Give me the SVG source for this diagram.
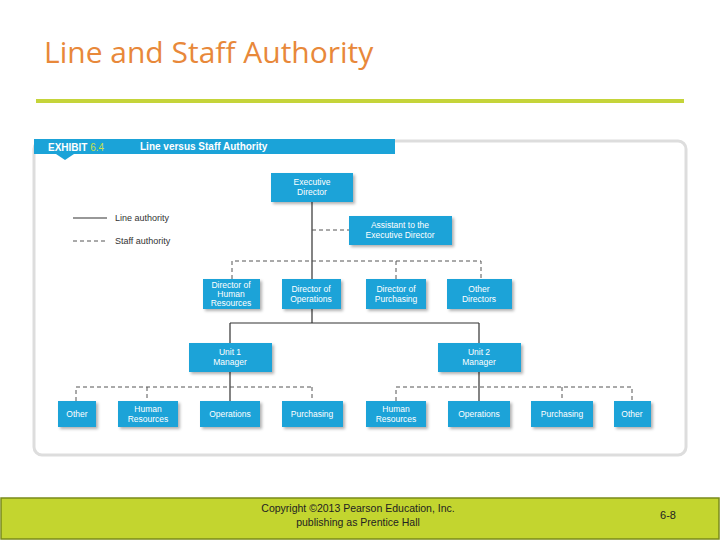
<svg xmlns="http://www.w3.org/2000/svg" width="720" height="540" viewBox="0 0 720 540">
<style>
.b{fill:#1ba3d8;filter:url(#sh)}
.t{font-family:"Liberation Sans",Arial,sans-serif;font-size:8.5px;fill:#fff;text-anchor:middle}
.s{stroke:#333;stroke-width:1.2;fill:none}
.d{stroke:#555;stroke-width:1;fill:none;stroke-dasharray:4,3}
</style>
<defs><filter id="sh" x="-20%" y="-20%" width="150%" height="150%"><feDropShadow dx="2" dy="2" stdDeviation="1.5" flood-color="#000" flood-opacity="0.3"/></filter></defs>
<rect width="720" height="540" fill="#fff"/>
<text x="44" y="63" font-family="'Open Sans','Liberation Sans',sans-serif" font-size="30" fill="#e8883a">Line and Staff Authority</text>
<rect x="36" y="99" width="648" height="4" fill="#c5d43a"/>
<rect x="34" y="141" width="652" height="314" rx="8" fill="#fff" stroke="#ddd" stroke-width="3"/>
<rect x="34" y="139" width="361" height="15" fill="#1ba3d8"/>
<polygon points="56,154 74,154 65,160" fill="#1ba3d8"/>
<text x="48" y="151" font-family="'Liberation Sans',sans-serif" font-size="10" font-weight="bold" fill="#fff">EXHIBIT <tspan fill="#c8e04a" font-weight="normal">6.4</tspan></text>
<text x="140" y="150" font-family="'Liberation Sans',sans-serif" font-size="10" font-weight="bold" fill="#fff">Line versus Staff Authority</text>
<line x1="73" y1="218" x2="107" y2="218" class="s"/>
<line x1="73" y1="241" x2="107" y2="241" class="d"/>
<text x="115" y="221" font-family="'Liberation Sans',sans-serif" font-size="9" fill="#333">Line authority</text>
<text x="115" y="244" font-family="'Liberation Sans',sans-serif" font-size="9" fill="#333">Staff authority</text>
<g id="connectors">
<path class="s" d="M312 202V323M230 323H479M230 323V343M479 323V343M312 279V261M230 372V401M479 372V401"/>
<path class="d" d="M312 230H349M232 279V261H481V279M396 261V279M76 401V387H312M147 387V401M312 387V401M396 401V387H632V401M562 387V401"/>
</g>
<g id="exec"><rect class="b" x="271" y="173" width="82" height="29"/><text class="t" x="312" y="185">Executive</text><text class="t" x="312" y="195">Director</text></g>
<g id="asst"><rect class="b" x="349" y="216" width="103" height="29"/><text class="t" x="400" y="228">Assistant to the</text><text class="t" x="400" y="238">Executive Director</text></g>
<g id="dhr"><rect class="b" x="203" y="279" width="57" height="30"/><text class="t" x="231" y="288">Director of</text><text class="t" x="231" y="297">Human</text><text class="t" x="231" y="306">Resources</text></g>
<g id="dops"><rect class="b" x="282" y="279" width="59" height="30"/><text class="t" x="311" y="292">Director of</text><text class="t" x="311" y="302">Operations</text></g>
<g id="dpur"><rect class="b" x="366" y="279" width="60" height="30"/><text class="t" x="396" y="292">Director of</text><text class="t" x="396" y="302">Purchasing</text></g>
<g id="dother"><rect class="b" x="447" y="279" width="65" height="30"/><text class="t" x="479" y="292">Other</text><text class="t" x="479" y="302">Directors</text></g>
<g id="u1"><rect class="b" x="189" y="343" width="83" height="29"/><text class="t" x="230" y="355">Unit 1</text><text class="t" x="230" y="365">Manager</text></g>
<g id="u2"><rect class="b" x="438" y="343" width="83" height="29"/><text class="t" x="479" y="355">Unit 2</text><text class="t" x="479" y="365">Manager</text></g>
<g id="o1"><rect class="b" x="58" y="401" width="38" height="26"/><text class="t" x="77" y="417">Other</text></g>
<g id="h1"><rect class="b" x="118" y="401" width="60" height="26"/><text class="t" x="148" y="412">Human</text><text class="t" x="148" y="422">Resources</text></g>
<g id="op1"><rect class="b" x="200" y="401" width="60" height="26"/><text class="t" x="230" y="417">Operations</text></g>
<g id="p1"><rect class="b" x="282" y="401" width="61" height="26"/><text class="t" x="312" y="417">Purchasing</text></g>
<g id="h2"><rect class="b" x="366" y="401" width="60" height="26"/><text class="t" x="396" y="412">Human</text><text class="t" x="396" y="422">Resources</text></g>
<g id="op2"><rect class="b" x="448" y="401" width="62" height="26"/><text class="t" x="479" y="417">Operations</text></g>
<g id="p2"><rect class="b" x="531" y="401" width="62" height="26"/><text class="t" x="562" y="417">Purchasing</text></g>
<g id="o2"><rect class="b" x="614" y="401" width="37" height="26"/><text class="t" x="632" y="417">Other</text></g>
<rect x="1" y="498" width="718" height="41" fill="#c3d52f" stroke="#7a8a1a" stroke-width="1.5"/>
<text x="358" y="512" font-family="'Liberation Sans',sans-serif" font-size="10.5" text-anchor="middle" fill="#222">Copyright ©2013 Pearson Education, Inc.</text>
<text x="358" y="526" font-family="'Liberation Sans',sans-serif" font-size="10.5" text-anchor="middle" fill="#222">publishing as Prentice Hall</text>
<text x="668" y="519" font-family="'Liberation Sans',sans-serif" font-size="11" text-anchor="middle" fill="#222">6-8</text>
</svg>
